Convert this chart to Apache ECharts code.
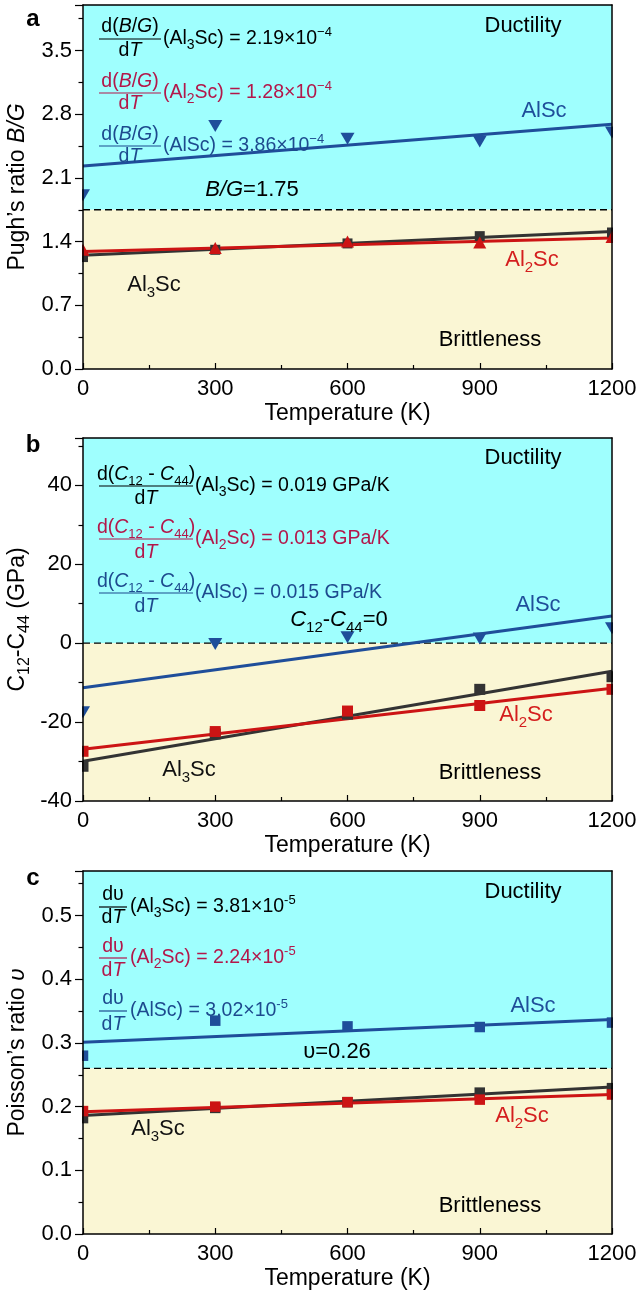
<!DOCTYPE html>
<html><head><meta charset="utf-8">
<script src="https://cdn.jsdelivr.net/npm/echarts@6.0.0/dist/echarts.min.js"></script>
<style>html,body{margin:0;padding:0;background:#fff}#c{width:641px;height:1301px}</style>
</head><body><div id="c"></div>
<script>
// ---------- data ----------
const temps = [0, 300, 600, 900, 1200];
const fitT = [0, 1200];
// panel a : Pugh's ratio B/G
const bgAl3Sc = [1.23, 1.31, 1.38, 1.46, 1.50];
const bgAl2Sc = [1.31, 1.33, 1.40, 1.39, 1.45];
const bgAlSc  = [1.91, 2.67, 2.53, 2.50, 2.60];
const bgFitAl3Sc = [1.25, 1.51];
const bgFitAl2Sc = [1.29, 1.44];
const bgFitAlSc  = [2.23, 2.69];
const bgCritical = [1.75, 1.75];
// panel b : C12 - C44 (GPa)
const cpAl3Sc = [-31.2, -23.0, -18.0, -11.7, -8.5];
const cpAl2Sc = [-27.4, -22.4, -17.2, -15.8, -11.7];
const cpAlSc  = [-17.5, -0.2, 1.5, 1.2, 3.8];
const cpFitAl3Sc = [-29.9, -7.1];
const cpFitAl2Sc = [-26.9, -11.4];
const cpFitAlSc  = [-11.3, 6.9];
const cpCritical = [0, 0];
// panel c : Poisson's ratio
const nuAl3Sc = [0.182, 0.198, 0.207, 0.222, 0.229];
const nuAl2Sc = [0.193, 0.200, 0.207, 0.211, 0.219];
const nuAlSc  = [0.280, 0.335, 0.326, 0.325, 0.332];
const nuFitAl3Sc = [0.186, 0.231];
const nuFitAl2Sc = [0.192, 0.219];
const nuFitAlSc  = [0.301, 0.337];
const nuCritical = [0.26, 0.26];

// ---------- style ----------
const FF = '"Liberation Sans", Arial, Helvetica, sans-serif';
const BLACK = '#333333', RED = '#cc1414', BLUE = '#1f4e9a';
const CRIM = '#b3174a', NAVY = '#1d4a8e', LBLRED = '#d41e1e';
const CYAN = '#9ffffe', BEIGE = '#faf6d4';

const panels = [
  {top: 5, height: 364, ymin: 0, ymax: 4.0, interval: 0.7, fmt: v => v.toFixed(1),
   name: 'Pugh\u2019s ratio {i|B/G}', crit: bgCritical,
   sets: [
     {d: bgAl3Sc, f: bgFitAl3Sc, c: BLACK, sym: 'rect', size: 10, rot: 0},
     {d: bgAl2Sc, f: bgFitAl2Sc, c: RED, sym: 'triangle', size: [13, 12], rot: 0},
     {d: bgAlSc, f: bgFitAlSc, c: BLUE, sym: 'triangle', size: [14, 12], rot: 180}]},
  {top: 438, height: 363, ymin: -40, ymax: 52, interval: 20, fmt: v => String(Math.round(v)),
   name: '{n|C}{s|12}{n|-C}{s|44}{n| (GPa)}', crit: cpCritical,
   sets: [
     {d: cpAl3Sc, f: cpFitAl3Sc, c: BLACK, sym: 'rect', size: 11, rot: 0},
     {d: cpAl2Sc, f: cpFitAl2Sc, c: RED, sym: 'rect', size: 11, rot: 0},
     {d: cpAlSc, f: cpFitAlSc, c: BLUE, sym: 'triangle', size: [14, 12], rot: 180}]},
  {top: 871, height: 363, ymin: 0, ymax: 0.57, interval: 0.1, fmt: v => v.toFixed(1),
   name: 'Poisson\u2019s ratio {i|\u03c5}', crit: nuCritical,
   sets: [
     {d: nuAl3Sc, f: nuFitAl3Sc, c: BLACK, sym: 'rect', size: 10.5, rot: 0},
     {d: nuAl2Sc, f: nuFitAl2Sc, c: RED, sym: 'rect', size: 10.5, rot: 0},
     {d: nuAlSc, f: nuFitAlSc, c: BLUE, sym: 'rect', size: 10.5, rot: 0}]}
];

const grid = [], xAxis = [], yAxis = [], series = [];
const axLine = {show: true, onZero: false, lineStyle: {color: '#000', width: 1.5}};
panels.forEach((p, i) => {
  grid.push({left: 83, right: 29, top: p.top, height: p.height, containLabel: false, outerBoundsMode: 'none'});
  xAxis.push({type: 'value', gridIndex: i, min: 0, max: 1200, interval: 300, position: 'bottom', z: 5,
    axisLine: axLine,
    axisTick: {show: true, inside: true, length: 6, lineStyle: {color: '#000', width: 1.2}},
    minorTick: {show: true, splitNumber: 2, length: 4, lineStyle: {color: '#000', width: 1.2}},
    splitLine: {show: false},
    axisLabel: {color: '#000', fontSize: 22, fontFamily: FF, margin: 9, showMinLabel: true, showMaxLabel: true,
      formatter: v => String(v)},
    name: 'Temperature (K)', nameLocation: 'middle', nameGap: 33, nameMoveOverlap: false,
    nameTextStyle: {color: '#000', fontSize: 23, fontFamily: FF}});
  yAxis.push({type: 'value', gridIndex: i, min: p.ymin, max: p.ymax, interval: p.interval, z: 5,
    axisLine: axLine,
    axisTick: {show: true, inside: false, length: 8, lineStyle: {color: '#000', width: 1.2}},
    minorTick: {show: true, splitNumber: 2, length: 4.5, lineStyle: {color: '#000', width: 1.2}},
    splitLine: {show: false},
    axisLabel: {color: '#000', fontSize: 22, fontFamily: FF, margin: 11, showMaxLabel: false, showMinLabel: true, formatter: p.fmt},
    name: p.name, nameLocation: 'middle', nameGap: 50, nameMoveOverlap: false,
    nameTextStyle: {color: '#000', fontSize: 23, fontFamily: FF,
      rich: {
        i: {fontStyle: 'italic', fontSize: 23, fontFamily: FF, color: '#000', lineHeight: 30},
        n: {fontSize: 23, fontFamily: FF, color: '#000', lineHeight: 30},
        s: {fontSize: 16, fontFamily: FF, color: '#000', verticalAlign: 'bottom', lineHeight: 12}}}});
});
panels.forEach((p, i) => {
  xAxis.push({type: 'value', gridIndex: i, min: 0, max: 1200, position: 'top', z: 5,
    axisLine: axLine, axisTick: {show: false}, axisLabel: {show: false}, splitLine: {show: false}});
  yAxis.push({type: 'value', gridIndex: i, min: p.ymin, max: p.ymax, position: 'right', z: 5,
    axisLine: axLine, axisTick: {show: false}, axisLabel: {show: false}, splitLine: {show: false}});
});

panels.forEach((p, i) => {
  // critical dashed line + ductile / brittle background
  series.push({type: 'line', xAxisIndex: i, yAxisIndex: i, z: 1, silent: true,
    data: fitT.map((t, k) => [t, p.crit[k]]), symbol: 'none',
    lineStyle: {color: '#000', width: 1.3, type: [7, 4]},
    markArea: {silent: true, data: [
      [{yAxis: p.crit[0], itemStyle: {color: CYAN}}, {yAxis: p.ymax}],
      [{yAxis: p.ymin, itemStyle: {color: BEIGE}}, {yAxis: p.crit[0]}]]}});
  p.sets.forEach(s => {
    series.push({type: 'scatter', xAxisIndex: i, yAxisIndex: i, z: 3, silent: true,
      data: temps.map((t, k) => [t, s.d[k]]), symbol: s.sym, symbolSize: s.size, symbolRotate: s.rot,
      itemStyle: {color: s.c, opacity: 1}});
    series.push({type: 'line', xAxisIndex: i, yAxisIndex: i, z: 3, silent: true,
      data: fitT.map((t, k) => [t, s.f[k]]), symbol: 'none',
      lineStyle: {color: s.c, width: 3}});
  });
});

// ---------- text annotations ----------
function rich(color, size) {
  const L = Math.round(size * 1.35);
  return {
    n: {fontSize: size, fontFamily: FF, fill: color, lineHeight: L},
    i: {fontSize: size, fontFamily: FF, fontStyle: 'italic', fill: color, lineHeight: L},
    s: {fontSize: Math.round(size * 0.68), fontFamily: FF, fill: color, verticalAlign: 'bottom', lineHeight: Math.round(size * 0.55)},
    sm: {fontSize: Math.round(size * 0.7), fontFamily: FF, fill: color, verticalAlign: 'bottom', lineHeight: Math.round(size * 1.05)},
    sup: {fontSize: Math.round(size * 0.65), fontFamily: FF, fill: color, verticalAlign: 'top', lineHeight: Math.round(size * 0.74)}
  };
}
function txt(x, y, text, color, size, align, weight) {
  return {type: 'text', x: x, y: y, z: 10, silent: true,
    style: {text: text, fill: color, font: (weight || '') + ' ' + size + 'px ' + FF,
      align: align || 'center', verticalAlign: 'middle', rich: rich(color, size)}};
}
function bar(x1, x2, y, color) {
  return {type: 'line', z: 10, silent: true, shape: {x1: x1, y1: y, x2: x2, y2: y},
    style: {stroke: color, lineWidth: 1.2}};
}
const g = [];
function frac(x1, x2, yb, num, color, restX, rest, up, down) {
  const cx = (x1 + x2) / 2;
  g.push(txt(cx, yb - up, num, color, 19.5));
  g.push(bar(x1, x2, yb, color));
  g.push(txt(cx, yb + down, '{n|d}{i|T}', color, 19.5));
  g.push(txt(restX, yb, rest, color, 19.5, 'left'));
}
// clipping masks for half-visible edge markers
panels.forEach(p => {
  g.push({type: 'rect', z: 4, silent: true, shape: {x: 0, y: p.top, width: 82, height: p.height}, style: {fill: '#fff'}});
  g.push({type: 'rect', z: 4, silent: true, shape: {x: 613, y: p.top, width: 28, height: p.height}, style: {fill: '#fff'}});
});
// panel letters
g.push(txt(33, 19, 'a', '#000', 24, 'center', 'bold'));
g.push(txt(33, 445, 'b', '#000', 24, 'center', 'bold'));
g.push(txt(33, 878, 'c', '#000', 24, 'center', 'bold'));

// panel a
const numA = '{n|d(}{i|B}{n|/}{i|G}{n|)}';
frac(99, 161, 39, numA, '#000', 163, '{n|(Al}{sm|3}{n|Sc) = 2.19\u00d710}{sup|\u22124}', 12, 12);
frac(99, 161, 93, numA, CRIM, 163, '{n|(Al}{sm|2}{n|Sc) = 1.28\u00d710}{sup|\u22124}', 11, 11);
frac(99, 161, 146, numA, NAVY, 163, '{n|(AlSc) = 3.86\u00d710}{sup|\u22124}', 11, 11);
g.push(txt(523, 26, '{n|Ductility}', '#000', 22));
g.push(txt(490, 340, '{n|Brittleness}', '#000', 22));
g.push(txt(544, 111, '{n|AlSc}', BLUE, 22));
g.push(txt(532, 260, '{n|Al}{s|2}{n|Sc}', LBLRED, 22));
g.push(txt(154, 285, '{n|Al}{s|3}{n|Sc}', '#111', 22));
g.push(txt(252, 190, '{i|B}{i|/}{i|G}{n|=1.75}', '#000', 22));

// panel b
const numB = '{n|d(}{i|C}{s|12}{n| - }{i|C}{s|44}{n|)}';
frac(99, 193, 486, numB, '#000', 195, '{n|(Al}{sm|3}{n|Sc) = 0.019 GPa/K}', 11, 13);
frac(99, 193, 539, numB, CRIM, 195, '{n|(Al}{sm|2}{n|Sc) = 0.013 GPa/K}', 11, 14);
frac(99, 193, 593, numB, NAVY, 195, '{n|(AlSc) = 0.015 GPa/K}', 11, 14);
g.push(txt(523, 458, '{n|Ductility}', '#000', 22));
g.push(txt(490, 773, '{n|Brittleness}', '#000', 22));
g.push(txt(538, 605, '{n|AlSc}', BLUE, 22));
g.push(txt(526, 715, '{n|Al}{s|2}{n|Sc}', LBLRED, 22));
g.push(txt(189, 770, '{n|Al}{s|3}{n|Sc}', '#111', 22));
g.push(txt(339, 620, '{i|C}{s|12}{n|-}{i|C}{s|44}{n|=0}', '#000', 22));

// panel c
const numC = '{n|d\u03c5}';
frac(99, 127, 907, numC, '#000', 130, '{n|(Al}{sm|3}{n|Sc) = 3.81\u00d710}{sup|-5}', 12, 11);
frac(99, 127, 958, numC, CRIM, 130, '{n|(Al}{sm|2}{n|Sc) = 2.24\u00d710}{sup|-5}', 11, 13);
frac(99, 127, 1011, numC, NAVY, 130, '{n|(AlSc) = 3.02\u00d710}{sup|-5}', 12, 14);
g.push(txt(523, 892, '{n|Ductility}', '#000', 22));
g.push(txt(490, 1206, '{n|Brittleness}', '#000', 22));
g.push(txt(533, 1006, '{n|AlSc}', BLUE, 22));
g.push(txt(522, 1116, '{n|Al}{s|2}{n|Sc}', LBLRED, 22));
g.push(txt(158, 1129, '{n|Al}{s|3}{n|Sc}', '#111', 22));
g.push(txt(337, 1052, '{n|\u03c5=0.26}', '#000', 22));

const chart = echarts.init(document.getElementById('c'), null, {renderer: 'canvas'});
chart.setOption({
  animation: false,
  backgroundColor: '#fff',
  textStyle: {fontFamily: FF},
  grid: grid, xAxis: xAxis, yAxis: yAxis, series: series,
  graphic: {elements: g}
});
</script></body></html>
